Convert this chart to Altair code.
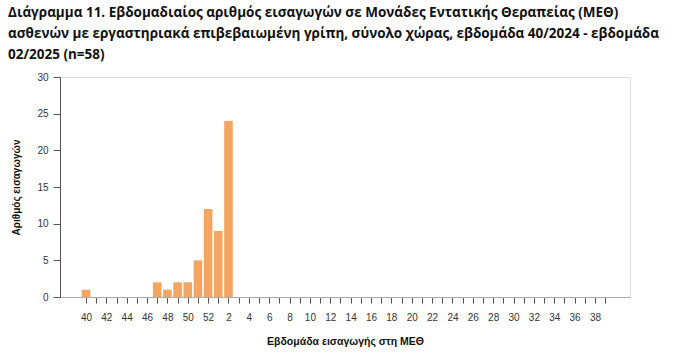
import altair as alt
import pandas as pd

weeks = list(range(40, 53)) + list(range(1, 40))
counts_map = {40: 1, 47: 2, 48: 1, 49: 2, 50: 2, 51: 5, 52: 12, 1: 9, 2: 24}
counts = [counts_map.get(w, 0) for w in weeks]

title_lines = [
    "Διάγραμμα 11. Εβδομαδιαίος αριθμός εισαγωγών σε Μονάδες Εντατικής Θεραπείας (ΜΕΘ)",
    "ασθενών με εργαστηριακά επιβεβαιωμένη γρίπη, σύνολο χώρας, εβδομάδα 40/2024 - εβδομάδα",
    "02/2025 (n=58)",
]

df = pd.DataFrame({"idx": list(range(len(weeks))), "week": weeks, "count": counts})

label_expr = (
    "(datum.value < 13 ? datum.value + 40 : datum.value - 12) % 2 == 0 ? "
    "'' + (datum.value < 13 ? datum.value + 40 : datum.value - 12) : ''"
)

chart = alt.Chart(df).mark_bar(color="#F4A562", size=8.6).encode(
    x=alt.X(
        "idx:Q",
        scale=alt.Scale(domain=[-2.55, 53.44], nice=False, zero=False, padding=0),
        axis=alt.Axis(
            title="Εβδομάδα εισαγωγής στη ΜΕΘ",
            values=list(range(len(weeks))),
            labelExpr=label_expr,
            labelAngle=0,
            labelOverlap=False,
            labelFlush=False,
            grid=False,
            labelFont="Liberation Sans",
            labelFontSize=10,
            labelColor="#333333",
            labelPadding=9,
            tickColor="#555555",
            tickSize=6,
            domainColor="#AAAAAA",
            titleFont="Liberation Sans",
            titleFontSize=10.5,
            titleFontWeight="bold",
            titleColor="#111111",
            titlePadding=14,
        ),
    ),
    y=alt.Y(
        "count:Q",
        scale=alt.Scale(domain=[0, 30], nice=False),
        axis=alt.Axis(
            title="Αριθμός εισαγωγών",
            values=[0, 5, 10, 15, 20, 25, 30],
            grid=False,
            labelFont="Liberation Sans",
            labelFontSize=10,
            labelColor="#333333",
            labelPadding=5,
            tickColor="#555555",
            tickSize=7,
            domainColor="#555555",
            titleFont="Liberation Sans",
            titleFontSize=10,
            titleFontWeight="bold",
            titleColor="#111111",
            titlePadding=15,
        ),
    ),
).properties(
    width=570,
    height=220,
    autosize=alt.AutoSizeParams(type="none"),
    padding={"left": 60, "top": 77, "right": 44, "bottom": 56},
    title=alt.Title(
        text=title_lines,
        anchor="start",
        frame="group",
        dx=-52,
        offset=11,
        font="Open Sans",
        fontSize=13.5,
        fontWeight="bold",
        lineHeight=21,
        color="#111111",
    ),
).configure_view(stroke=None).configure(background="white")

chart.save("out.html", embed_options={"renderer": "svg", "actions": False})
